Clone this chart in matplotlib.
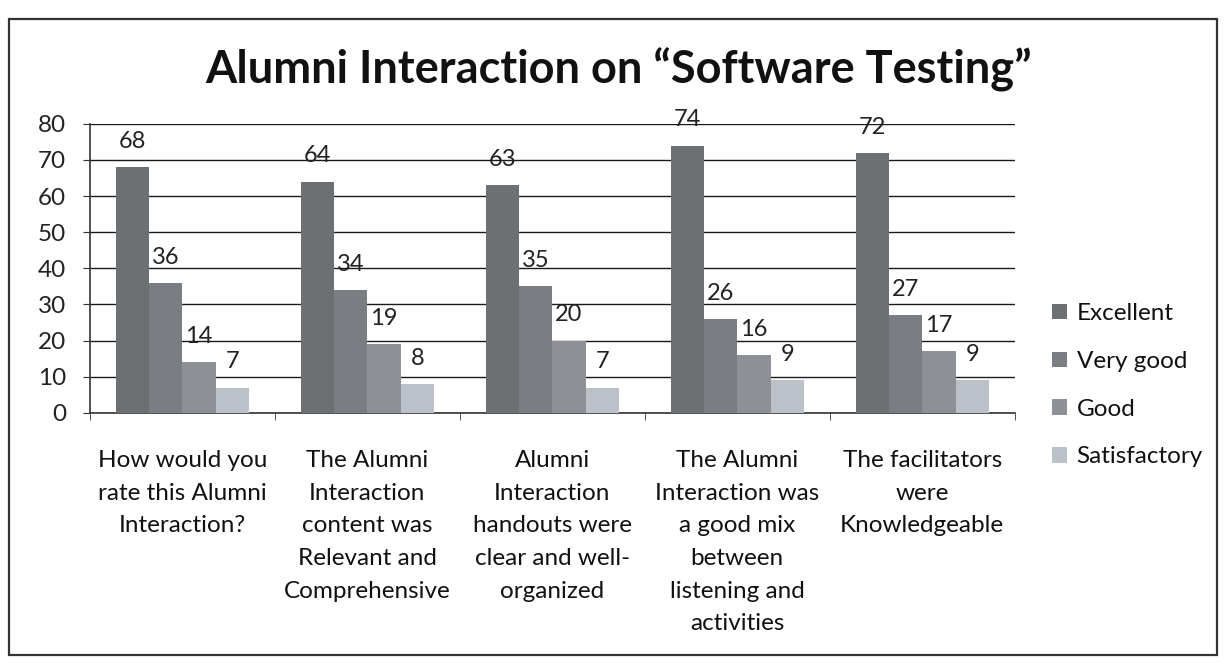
import numpy as np
import matplotlib
matplotlib.use("Agg")
import matplotlib.pyplot as plt
from matplotlib.patches import Rectangle

categories = [
    "How would you\nrate this Alumni\nInteraction?",
    "The Alumni\nInteraction\ncontent was\nRelevant and\nComprehensive",
    "Alumni\nInteraction\nhandouts were\nclear and well-\norganized",
    "The Alumni\nInteraction was\na good mix\nbetween\nlistening and\nactivities",
    "The facilitators\nwere\nKnowledgeable",
]
series_names = ["Excellent", "Very good", "Good", "Satisfactory"]
excellent = [68, 64, 63, 74, 72]
very_good = [36, 34, 35, 26, 27]
good = [14, 19, 20, 16, 17]
satisfactory = [7, 8, 7, 9, 9]
y_ticks = [0, 10, 20, 30, 40, 50, 60, 70, 80]

series = [excellent, very_good, good, satisfactory]
colors = ["#6d7072", "#7a7d81", "#8d9095", "#bcc0c8"]

plt.rcParams["font.family"] = ["Lato", "DejaVu Sans"]

fig = plt.figure(figsize=(12.27, 6.68), dpi=100)
fig.patch.set_facecolor("white")

# outer chart border
fig.add_artist(Rectangle((0.007, 0.02), 0.985, 0.952, transform=fig.transFigure,
                         fill=False, edgecolor="#333333", linewidth=1.6))

ax = fig.add_axes([0.0733, 0.382, 0.7537, 0.4326])
x = np.arange(len(categories))
bw = 0.18
offsets = (np.arange(4) - 1.5) * bw
for vals, off, col, name in zip(series, offsets, colors, series_names):
    bars = ax.bar(x + off, vals, width=bw, color=col, label=name, zorder=3)
    for b, v in zip(bars, vals):
        ax.text(b.get_x() + b.get_width() / 2, v + 4.2, str(v),
                ha="center", va="bottom", fontsize=17, color="#222222", zorder=4)

ax.set_xlim(-0.5, len(categories) - 0.5)
ax.set_ylim(0, 80)
ax.set_yticks(y_ticks)
ax.yaxis.grid(True, color="#1a1a1a", linewidth=1.0, zorder=0)
ax.set_axisbelow(True)
ax.tick_params(axis="y", labelsize=17.5, length=5, color="#333333", labelcolor="#222222", pad=12)
ax.set_xticks(x)
ax.set_xticklabels(categories, fontsize=17.5, color="#111111", linespacing=1.68, va="top")
ax.tick_params(axis="x", length=0, pad=27)
ax.set_xticks(np.arange(len(categories) + 1) - 0.5, minor=True)
ax.tick_params(axis="x", which="minor", length=5, color="#333333")
for s in ["top", "right"]:
    ax.spines[s].set_visible(False)
ax.spines["left"].set_color("#333333")
ax.spines["bottom"].set_color("#333333")
ax.spines["left"].set_linewidth(1.2)
ax.spines["bottom"].set_linewidth(1.2)

fig.text(0.504, 0.895, "Alumni Interaction on \u201cSoftware Testing\u201d",
         ha="center", va="center", fontsize=32.5, fontweight="bold", color="#111111")

ax.legend(loc="center left", bbox_to_anchor=(1.03, 0.095), frameon=False,
          fontsize=17.5, labelspacing=1.1, handlelength=0.6, handleheight=0.6,
          handletextpad=0.4, borderaxespad=0)
leg = ax.get_legend()
for t in leg.get_texts():
    t.set_color("#111111")

fig.savefig("out.png", dpi=100, facecolor="white")
